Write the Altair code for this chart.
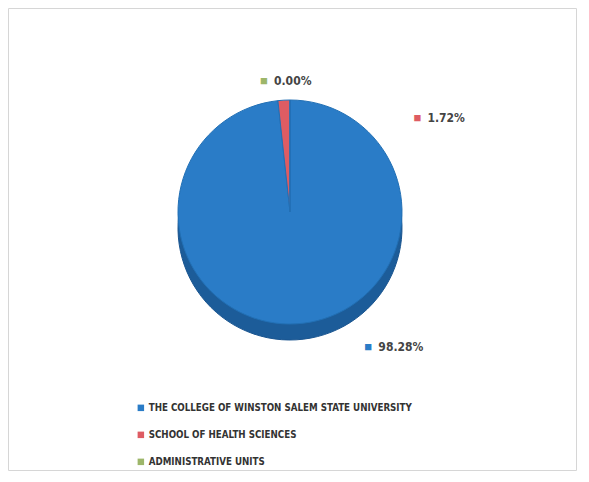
import altair as alt
import pandas as pd

categories = ["THE COLLEGE OF WINSTON SALEM STATE UNIVERSITY",
              "SCHOOL OF HEALTH SCIENCES",
              "ADMINISTRATIVE UNITS"]
values = [98.28, 1.72, 0.00]
labels = ["98.28%", "1.72%", "0.00%"]
colors = ["#2a7cc7", "#de5c63", "#9db66a"]

df = pd.DataFrame({"category": categories, "value": values, "label": labels,
                   "idx": list(range(len(categories)))})

CX, CY = 282, 204
R = 112
DEPTH = 16
FONT = "DejaVu Sans Condensed"

theta = alt.Theta("value:Q", stack=True)
order = alt.Order("idx:Q")
color = alt.Color("category:N", sort=categories,
                  scale=alt.Scale(domain=categories, range=colors),
                  legend=alt.Legend(title=None, orient="none", legendX=128, legendY=395,
                                    symbolType="square", symbolSize=42,
                                    labelFont=FONT, labelFontSize=9.7, labelFontWeight="bold",
                                    labelColor="#333333", rowPadding=16, labelLimit=400,
                                    labelOffset=3, symbolStrokeWidth=0))

base = alt.Chart(df)

depth = base.mark_arc(radius=R, color="#1c5c99", stroke="#1a5590", strokeWidth=1).encode(
    theta=theta, order=order, x=alt.value(CX), y=alt.value(CY + DEPTH))

pie = base.mark_arc(radius=R, stroke="#2270b5", strokeWidth=1).encode(
    theta=theta, order=order, color=color, x=alt.value(CX), y=alt.value(CY))

def lab(i, r, dx, dy):
    sub = base.transform_filter(alt.datum.idx == i)
    sq = sub.mark_text(text="■", fontSize=13, align="left", baseline="middle",
                       dx=dx, dy=dy, radius=r).encode(
        theta=theta, order=order, color=alt.value(colors[i]), x=alt.value(CX), y=alt.value(CY))
    tx = sub.mark_text(fontSize=12, font=FONT, fontWeight="bold", align="left", baseline="middle",
                       dx=dx + 14, dy=dy, radius=r, color="#444444").encode(
        theta=theta, order=order, text="label:N", x=alt.value(CX), y=alt.value(CY))
    return sq + tx

chart = alt.layer(
    depth, pie,
    lab(0, R + 6, 68, 17),
    lab(1, R + 26, 116, 44),
    lab(2, R + 14, -30, -5),
).properties(
    width=568, height=462,
    padding={"left": 0, "top": 0, "right": 2, "bottom": 2},
    autosize=alt.AutoSizeParams(type="none"),
    background="white"
).configure_view(stroke="#d6d6d6", strokeWidth=1)

chart.save("out.html", embed_options={"renderer": "svg", "actions": False})
